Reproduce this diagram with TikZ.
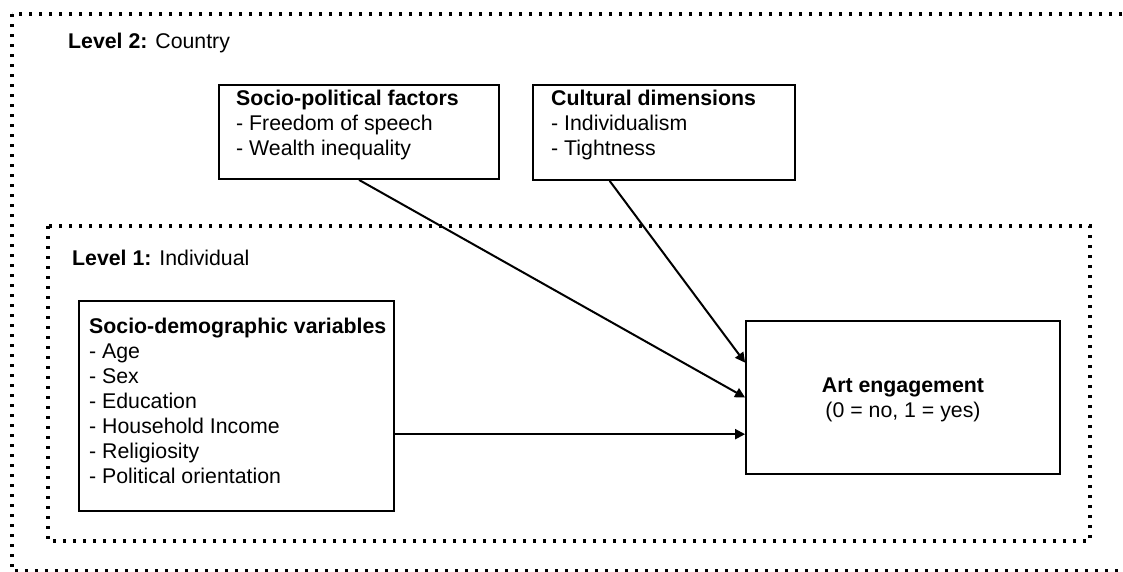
\documentclass[tikz,border=0pt]{standalone}
\usepackage{fontspec}
\setmainfont{Liberation Sans}
\usetikzlibrary{arrows.meta,calc}
\begin{document}
\begin{tikzpicture}[x=1pt,y=-1pt,
  box/.style={draw, line width=1.8pt, inner sep=0pt},
  lbl/.style={inner sep=0pt, anchor=base west, align=left, font=\fontsize{21.3}{25}\selectfont},
  clbl/.style={inner sep=0pt, anchor=base, align=center, font=\fontsize{21.3}{25}\selectfont},
  dotbox/.style={line width=3.2pt, dash pattern=on 3.2pt off 6.8pt},
  arr/.style={line width=2pt, -{Triangle[length=10pt,width=10pt]}}]
\useasboundingbox (0,0) rectangle (1123,571);
\clip (0,0) rectangle (1123,571);
% level frames
\draw[dotbox] (12,14) rectangle (1140,571);
\draw[dotbox] (48,226) rectangle (1090,541);
\node[lbl] (lvl2) at (68,48) {\textbf{Level 2:} Country};
\node[lbl] (lvl1) at (72,265) {\textbf{Level 1:} Individual};
% boxes (multi-line labels are anchored at the baseline of their last line)
\node[box, minimum width=280pt, minimum height=94pt] (sp) at (359,132) {};
\node[lbl] (sptext) at (236,155) {\textbf{Socio-political factors}\\- Freedom of speech\\- Wealth inequality};
\node[box, minimum width=262pt, minimum height=95pt] (cd) at (664,132.5) {};
\node[lbl] (cdtext) at (551,155) {\textbf{Cultural dimensions}\\- Individualism\\- Tightness};
\node[box, minimum width=315pt, minimum height=210pt] (sd) at (236.5,406) {};
\node[lbl] (sdtext) at (89,483) {\textbf{Socio-demographic variables}\\- Age\\- Sex\\- Education\\- Household Income\\- Religiosity\\- Political orientation};
\node[box, minimum width=314pt, minimum height=153pt] (art) at (903,397.5) {};
\node[clbl] (arttext) at (903,417) {\textbf{Art engagement}\\(0 = no, 1 = yes)};
% connectors
\coordinate (sdout) at ($(sd.south east)!0.367!(sd.north east)$);
\draw[arr] (sdout) -- (sdout -| art.west);
\draw[arr] (sp.south) -- (art.west);
\draw[arr] ($(cd.south west)!0.294!(cd.south east)$) -- ($(art.north west)!0.275!(art.south west)$);
\end{tikzpicture}
\end{document}
